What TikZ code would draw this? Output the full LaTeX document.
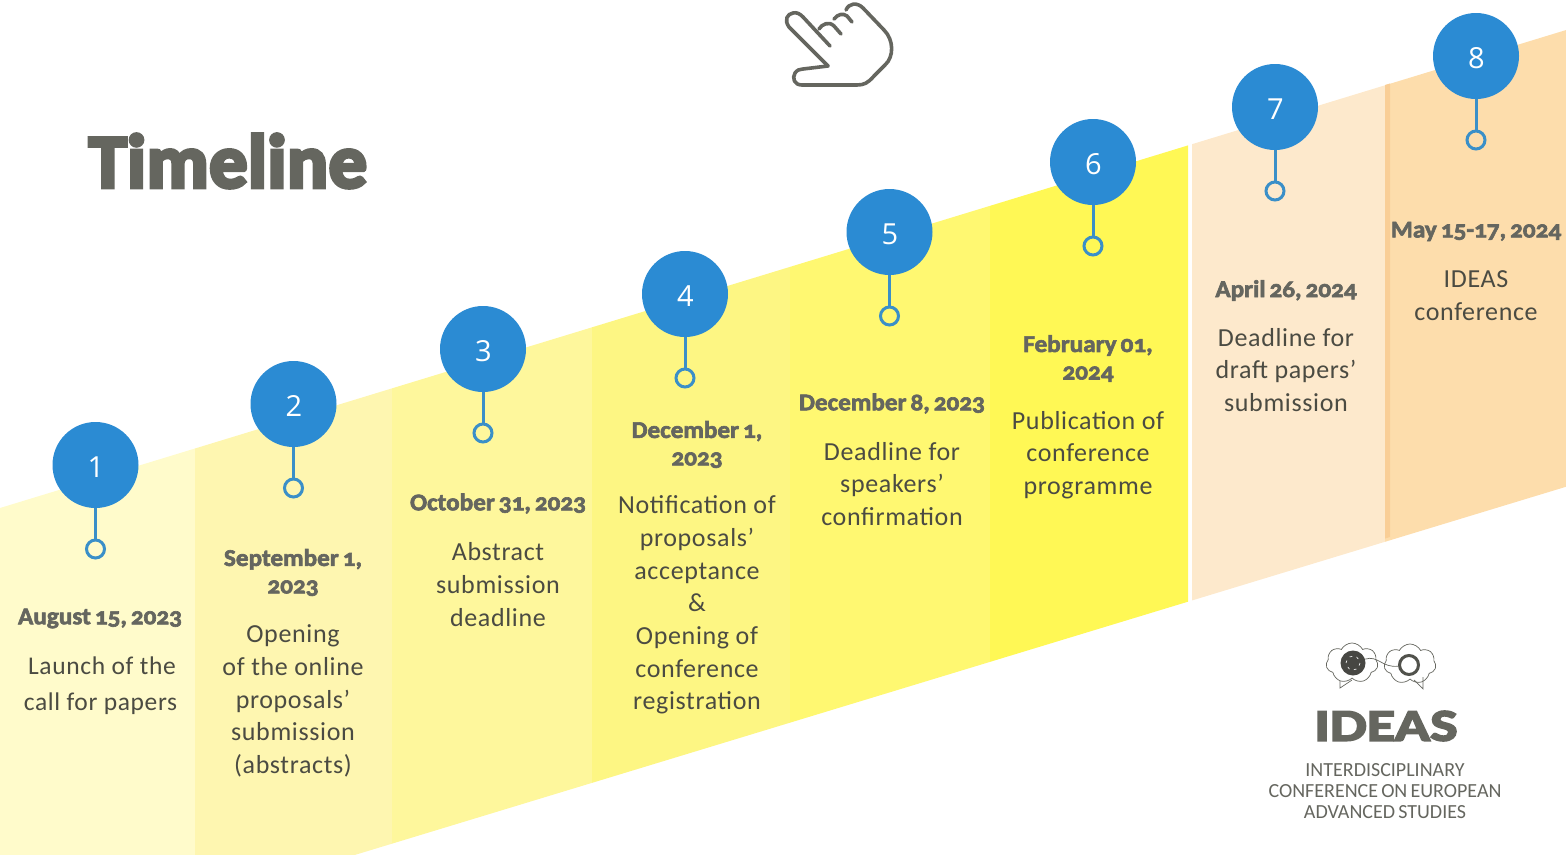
\documentclass[tikz,border=0pt]{standalone}
\usepackage{fontspec}
\setmainfont[LetterSpace=2.5]{Carlito}
\newfontfamily\logofont[WordSpace=0.7]{Carlito}
\newfontfamily\datefont[Numbers=OldStyle,FakeBold=2.6,FakeStretch=1.05,WordSpace=0.7]{Carlito Bold}
\newfontfamily\headfont[FakeBold=5,LetterSpace=1]{Carlito Bold}
\newfontfamily\logohead[FakeBold=4,FakeStretch=1.3]{Carlito Bold}
\newfontfamily\numfont{Open Sans}
\usetikzlibrary{shapes.symbols}
\definecolor{pinblue}{HTML}{2B8BD3}
\definecolor{ringblue}{HTML}{3A8FC8}
\definecolor{greytext}{HTML}{65665F}
\definecolor{bodytext}{HTML}{4B4B42}
\definecolor{orangeedge}{HTML}{F9CE96}
\newcommand{\apos}{\symbol{39}}
\begin{document}
\begin{tikzpicture}[x=1pt,y=-1pt,
  pin/.style={circle,fill=pinblue,minimum size=86pt,inner sep=0pt,text=white,font=\numfont\fontsize{29}{29}\selectfont},
  ring/.style={circle,draw=ringblue,line width=3pt,minimum size=18pt,inner sep=0pt},
  stem/.style={draw=ringblue,line width=3pt},
  datetext/.style={align=center,text=greytext,font=\datefont\fontsize{24}{27.5}\selectfont},
  bodytxt/.style={align=center,text=bodytext,font=\fontsize{26}{32.7}\selectfont},
  handline/.style={draw=greytext,line width=3.6pt,line join=round,line cap=round},
  thinline/.style={draw=greytext,line width=0.7pt},
  bubble/.style={cloud,cloud puffs=7,cloud puff arc=125,aspect=1.25,thinline,fill=white,minimum width=52pt,minimum height=40pt,inner sep=0pt}]
\useasboundingbox (0,0) rectangle (1566,854);
\clip (0,0) rectangle (1566,854);
% strips of the rising band
\foreach \xa/\xb/\col in {0/195/FFFBCB,195/392/FEF6B0,392/592/FEF79C,592/790/FDF683,
  790/990/FFF871,990/1188/FFF855,1192/1385/FDE9CC,1385/1566/FDDDAC}{
  \definecolor{stripcol}{HTML}{\col}
  \fill[stripcol] (\xa,{508-0.3052*\xa}) -- (\xb,{508-0.3052*\xb})
    -- (\xb,{854-0.304*(\xb-358)}) -- (\xa,{854-0.304*(\xa-358)}) -- cycle;
}
\fill[orangeedge] (1385,85) -- (1390,83.5) -- (1390,537) -- (1385,538.5) -- cycle;
% numbered pins
\foreach \n/\x/\y in {1/95.5/465,2/293.5/404,3/483/349,4/685/294,5/889.5/232,6/1093/162,7/1275/107,8/1476/56}{
  \node[pin] (pin\n) at (\x,\y) {\hspace{1pt}\raisebox{-12.5pt}[0pt][0pt]{\n}};
  \node[ring] (ring\n) at (\x,\y+84) {};
  \draw[stem] (pin\n) -- (ring\n);
}
% dates
\node[datetext] (date1) at (100,618.5) {August 15, 2023};
\node[datetext] (date2) at (293,572.5) {September 1,\\2023};
\node[datetext] (date3) at (498,503.5) {October 31, 2023};
\node[datetext] (date4) at (697,444.5) {December 1,\\2023};
\node[datetext] (date5) at (892,403.5) {December 8, 2023};
\node[datetext] (date6) at (1088,358.5) {February 01,\\2024};
\node[datetext] (date7) at (1286,290.5) {April 26, 2024};
\node[datetext] (date8) at (1476,231.5) {May 15-17, 2024};
% what happens
\node[bodytxt,font=\fontsize{25.5}{36}\selectfont] (text1) at (100.5,686) {\hspace*{3pt}Launch of the\\call for papers};
\node[bodytxt] (text2) at (293,701) {Opening\\of the online\\proposals\apos\\submission\\(abstracts)};
\node[bodytxt] (text3) at (498,584.5) {Abstract\\submission\\deadline};
\node[bodytxt] (text4) at (697,605) {Notification of\\proposals\apos\\acceptance\\\&\\Opening of\\conference\\registration};
\node[bodytxt] (text5) at (892,484) {Deadline for\\speakers\apos\\confirmation};
\node[bodytxt] (text6) at (1088,455) {Publication of\\conference\\programme};
\node[bodytxt] (text7) at (1286,370) {Deadline for\\draft papers\apos\\submission};
\node[bodytxt] (text8) at (1476,295.5) {IDEAS\\conference};
% title
\node[text=greytext,font=\headfont\fontsize{76}{76}\selectfont] (title) at (228,161) {Timeline};
% hand
\draw[handline] (828,66) -- (789,27) .. controls (784,20) and (787,14) .. (793,13)
  .. controls (797,12) and (800,14) .. (803,17) -- (830,46);
\draw[handline] (819,29) .. controls (822,24) and (829,21) .. (834,26) -- (841,34);
\draw[handline] (834,19) .. controls (838,14) and (843,13) .. (847,16) -- (852,22);
\draw[handline] (846,10) .. controls (849,3) and (857,2) .. (863,8) -- (884,30)
  .. controls (894,40) and (894,57) .. (885,65) -- (874,76)
  .. controls (868,83) and (864,85) .. (857,85) -- (802,85)
  .. controls (794,85) and (792,78) .. (795,73) .. controls (797,70) and (800,69) .. (803,69) -- (828,66);
% logo
\draw[thinline] (1340,681) -- (1340,688) -- (1352,680);
\node[bubble] (thinka) at (1352,663) {};
\node[bubble] (thinkb) at (1410,664) {};
\draw[thinline] (1414,680) -- (1423,689) -- (1423,677);
\node[circle,fill=greytext!70!black,minimum size=25pt,inner sep=0pt] (brain) at (1353,663) {};
\foreach \a in {0,60,...,300}{
  \draw[white,line width=0.6pt] (brain.center) ++(\a:7) arc[start angle=\a,end angle=\a+40,radius=4];
}
\node[circle,draw=greytext!80!black,line width=3pt,minimum size=19pt,inner sep=0pt] (hole) at (1409,665) {};
\draw[thinline] (brain) .. controls (1378,655) and (1382,668) .. (hole);
\node[text=greytext,font=\logohead\fontsize{45}{45}\selectfont] (ideas) at (1386,726) {IDEAS};
\node[align=center,text=greytext,font=\logofont\fontsize{20}{21}\selectfont] (ideasname) at (1385,791.5)
  {INTERDISCIPLINARY\\CONFERENCE ON EUROPEAN\\ADVANCED STUDIES};
\end{tikzpicture}
\end{document}
